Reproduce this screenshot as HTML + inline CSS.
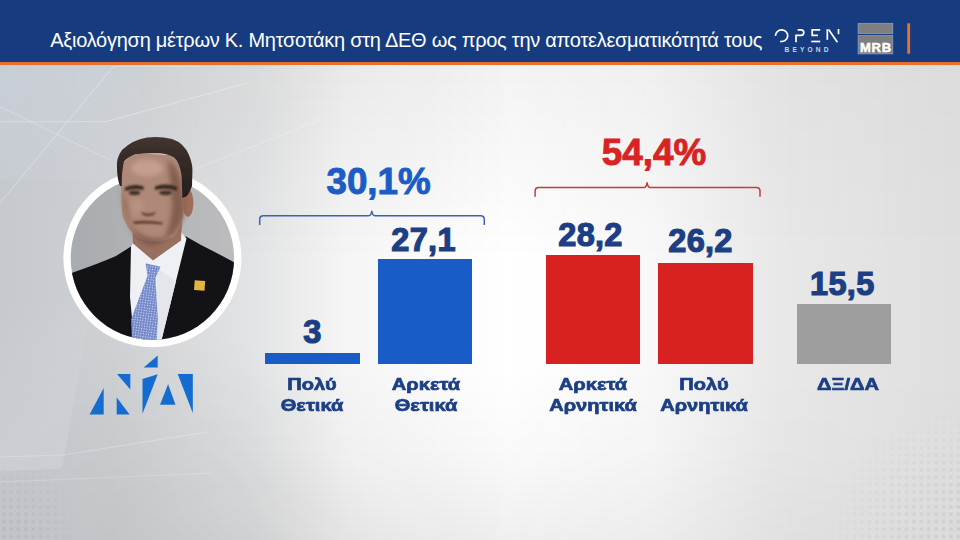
<!DOCTYPE html>
<html lang="el">
<head>
<meta charset="utf-8">
<title>Chart</title>
<style>
  html, body { margin: 0; padding: 0; }
  body {
    width: 960px; height: 540px; overflow: hidden; position: relative;
    font-family: "Liberation Sans", sans-serif;
    background: #e4e5e6;
  }
  #bg { position: absolute; left: 0; top: 0; width: 960px; height: 540px; }
  #header {
    position: absolute; left: 0; top: 0; width: 960px; height: 62px;
    background: #163c7f;
  }
  #stripe {
    position: absolute; left: 0; top: 61.5px; width: 960px; height: 3.5px;
    background: #e8702e;
  }
  #title {
    position: absolute; left: 50.3px; top: 27.5px; height: 24px; line-height: 24px;
    font-size: 20px; color: #ffffff; white-space: nowrap; letter-spacing: -0.27px;
  }
  .bar { position: absolute; }
  .blue { background: #1a5cc5; }
  .red { background: #d82121; }
  .gray { background: #9e9e9e; }
  .val {
    position: absolute; font-weight: bold; color: #1c3f84; font-size: 32.5px;
    line-height: 33px; height: 33px; width: 120px; white-space: nowrap; text-align: center;
    letter-spacing: 0.3px;
    -webkit-text-stroke: 1.2px #1c3f84;
  }
  .tot {
    position: absolute; font-weight: bold; font-size: 36.8px; line-height: 38px;
    height: 38px; width: 160px; white-space: nowrap; text-align: center;
    letter-spacing: 0px;
  }
  .lab {
    position: absolute; font-weight: bold; color: #1c3f84; font-size: 17.3px;
    line-height: 20.8px; width: 120px; text-align: center; white-space: nowrap;
    -webkit-text-stroke: 0.7px #1c3f84;
    transform: scaleX(1.16); transform-origin: 50% 0;
  }
  svg { position: absolute; left: 0; top: 0; }
  #beyond {
    position: absolute; left: 784.5px; top: 45.6px; font-size: 6.6px; line-height: 8px;
    font-weight: bold; color: #c9d5ee; letter-spacing: 3.15px; white-space: nowrap;
  }
  #mrb {
    position: absolute; left: 860px; top: 40.9px; font-size: 13px; line-height: 14px;
    font-weight: bold; color: #ffffff; white-space: nowrap; letter-spacing: 0.75px;
    -webkit-text-stroke: 0.5px #ffffff;
  }
</style>
</head>
<body>
<svg id="bg" width="960" height="540" viewBox="0 0 960 540">
  <defs>
    <linearGradient id="g1" x1="0" y1="0" x2="1" y2="0">
      <stop offset="0" stop-color="#c5c8cc"/>
      <stop offset="0.026" stop-color="#c7cace"/>
      <stop offset="0.12" stop-color="#cfd2d5"/>
      <stop offset="0.26" stop-color="#e2e3e4"/>
      <stop offset="0.36" stop-color="#f5f5f5"/>
      <stop offset="0.53" stop-color="#ffffff"/>
      <stop offset="0.68" stop-color="#f8f8f8"/>
      <stop offset="0.81" stop-color="#e8e8e8"/>
      <stop offset="0.97" stop-color="#e0e0e0"/>
      <stop offset="1" stop-color="#dfdfdf"/>
    </linearGradient>
    <linearGradient id="g2" x1="0" y1="0" x2="0" y2="1">
      <stop offset="0" stop-color="#000" stop-opacity="0.055"/>
      <stop offset="0.12" stop-color="#000" stop-opacity="0.05"/>
      <stop offset="0.48" stop-color="#000" stop-opacity="0"/>
      <stop offset="0.68" stop-color="#000" stop-opacity="0"/>
      <stop offset="0.84" stop-color="#000" stop-opacity="0.022"/>
      <stop offset="1" stop-color="#000" stop-opacity="0.065"/>
    </linearGradient>
    <linearGradient id="gm" x1="0" y1="0" x2="1" y2="0">
      <stop offset="0" stop-color="#fff" stop-opacity="0"/>
      <stop offset="0.1" stop-color="#fff" stop-opacity="0.25"/>
      <stop offset="0.27" stop-color="#fff" stop-opacity="0.85"/>
      <stop offset="0.5" stop-color="#fff" stop-opacity="1"/>
      <stop offset="0.8" stop-color="#fff" stop-opacity="0.45"/>
      <stop offset="1" stop-color="#fff" stop-opacity="0.25"/>
    </linearGradient>
    <mask id="mk" maskUnits="userSpaceOnUse" x="0" y="0" width="960" height="540">
      <rect width="960" height="540" fill="url(#gm)"/>
    </mask>
    <linearGradient id="gtl" x1="0" y1="0" x2="1" y2="1">
      <stop offset="0" stop-color="#ccd5e2" stop-opacity="0.5"/>
      <stop offset="1" stop-color="#cfd8e6" stop-opacity="0"/>
    </linearGradient>
      <radialGradient id="gdl" gradientUnits="userSpaceOnUse" cx="150" cy="545" r="230">
      <stop offset="0" stop-color="#000" stop-opacity="0.04"/>
      <stop offset="0.5" stop-color="#000" stop-opacity="0.025"/>
      <stop offset="1" stop-color="#000" stop-opacity="0"/>
    </radialGradient>
    <linearGradient id="gpan" x1="0" y1="0" x2="0" y2="1">
      <stop offset="0" stop-color="#e6edf2" stop-opacity="0"/>
      <stop offset="0.6" stop-color="#e6edf2" stop-opacity="0.14"/>
      <stop offset="1" stop-color="#e6edf2" stop-opacity="0.22"/>
    </linearGradient>
    <pattern id="pd" width="7.4" height="7.4" patternUnits="userSpaceOnUse">
      <rect x="2" y="2" width="3.4" height="3.4" rx="0.8" fill="#8e9094"/>
    </pattern>
    <radialGradient id="rbl" gradientUnits="userSpaceOnUse" cx="-5" cy="545" r="95">
      <stop offset="0" stop-color="#fff" stop-opacity="0.24"/>
      <stop offset="0.6" stop-color="#fff" stop-opacity="0.12"/>
      <stop offset="1" stop-color="#fff" stop-opacity="0"/>
    </radialGradient>
    <mask id="mbl" maskUnits="userSpaceOnUse" x="0" y="400" width="200" height="140"><rect x="0" y="400" width="200" height="140" fill="url(#rbl)"/></mask>
    <radialGradient id="rbr" gradientUnits="userSpaceOnUse" cx="970" cy="550" r="150">
      <stop offset="0" stop-color="#fff" stop-opacity="0.22"/>
      <stop offset="0.55" stop-color="#fff" stop-opacity="0.12"/>
      <stop offset="1" stop-color="#fff" stop-opacity="0"/>
    </radialGradient>
    <mask id="mbr" maskUnits="userSpaceOnUse" x="760" y="360" width="200" height="180"><rect x="760" y="360" width="200" height="180" fill="url(#rbr)"/></mask>
  </defs>
  <rect width="960" height="540" fill="url(#g1)"/>
  <rect width="960" height="540" fill="url(#g2)" mask="url(#mk)"/>
  <rect x="0" y="60" width="140" height="120" fill="url(#gtl)"/>
  <rect x="0" y="300" width="420" height="240" fill="url(#gdl)"/>
  <g fill="none" stroke="#ffffff" stroke-width="1">
    <path d="M0 203 L112 68 Q114 66 118 66 H200" opacity="0.35"/>
    <path d="M0 121.7 H106 L247 83" opacity="0.32"/>
    <path d="M0 106.7 L110 160" opacity="0.25"/>
    <path d="M320 120 L193 170" opacity="0.25"/>
    <path d="M0 457 L63 455 L207 432" opacity="0.25"/>
    <path d="M0 482 L213 473" opacity="0.2"/>
  </g>
  <polygon points="0,300 92,300 62,468.5 0,471.5" fill="url(#gpan)"/>
  <rect x="0" y="470" width="110" height="70" fill="url(#pd)" mask="url(#mbl)"/>
  <rect x="780" y="380" width="180" height="160" fill="url(#pd)" mask="url(#mbr)"/>
</svg>

<div id="header"></div>
<div id="stripe"></div>
<div id="title">Αξιολόγηση μέτρων Κ. Μητσοτάκη στη ΔΕΘ ως προς την αποτελεσματικότητά τους</div>

<!-- header logos -->
<svg id="logos" width="960" height="70" viewBox="0 0 960 70">
  <g fill="none" stroke="#ffffff" stroke-width="1.7" stroke-linecap="butt">
    <path d="M775.5 35.9 A6.1 5.8 0 1 1 780.1 41.3"/>
    <path d="M797.6 29.8 H801 A2.8 2.8 0 0 1 801 35.4 H796 V42.3"/>
    <path d="M820.2 29.8 H812.2 V35.4 H818"/>
    <path d="M811.3 41.5 H820.2"/>
    <path d="M827.3 29.2 V39.8"/>
    <path d="M828.6 29.6 L837.4 42.2"/>
    <path d="M838.5 29 V34.2"/>
  </g>
  <rect x="858.1" y="23.3" width="34.7" height="10.4" fill="#7f7f80" stroke="#8fa5cf" stroke-width="0.7"/>
  <rect x="858.1" y="35.6" width="34.7" height="18.3" fill="#7f7f80" stroke="#8fa5cf" stroke-width="0.7"/>
  <rect x="907.3" y="23.3" width="2.8" height="30.4" fill="#e8742f"/>
</svg>
<div id="beyond">BEYOND</div>
<div id="mrb">MRB</div>

<!-- portrait + party logo -->
<svg id="portrait" width="960" height="540" viewBox="0 0 960 540">
  <defs>
    <clipPath id="cin"><circle cx="152.4" cy="258.2" r="81.7"/></clipPath>
    <linearGradient id="pg" x1="0" y1="0" x2="1" y2="0">
      <stop offset="0" stop-color="#a8abaf"/>
      <stop offset="1" stop-color="#bcbcbd"/>
    </linearGradient>
    <linearGradient id="hg" x1="0" y1="0" x2="0" y2="1">
      <stop offset="0" stop-color="#43362f"/>
      <stop offset="0.3" stop-color="#382c28"/>
      <stop offset="1" stop-color="#261e1d"/>
    </linearGradient>
    <filter id="b1" x="-20%" y="-20%" width="140%" height="140%"><feGaussianBlur stdDeviation="1.1"/></filter>
    <filter id="b2" x="-20%" y="-20%" width="140%" height="140%"><feGaussianBlur stdDeviation="2.6"/></filter>
    <filter id="b0" x="-5%" y="-5%" width="110%" height="110%"><feGaussianBlur stdDeviation="0.5"/></filter>
    <pattern id="dots" width="2.6" height="2.6" patternUnits="userSpaceOnUse" patternTransform="rotate(8)">
      <rect width="2.6" height="2.6" fill="#748ac9"/>
      <circle cx="1.3" cy="1.3" r="0.6" fill="#dfe5f7"/>
    </pattern>
  </defs>
  <circle cx="152.4" cy="258.2" r="89" fill="#ffffff"/>
  <circle cx="152.4" cy="258.2" r="81.7" fill="url(#pg)"/>
  <g clip-path="url(#cin)">
    <!-- suit -->
    <path d="M60 279 L73 272.5 Q100 263 116 256 L131 246.5 L186 236.5 L201 245 Q220 254.5 240 265.5 L240 345 L60 345 Z" fill="#121217"/>
    <!-- shirt -->
    <path d="M131 246.5 L136 238 L181 232 L186.5 238.5 L176 281 L161.5 340 L134 340 L130 297 Z" fill="#eff0f3"/>
    <path d="M157 268 L176 281 L161.5 340 L157 340 Z" fill="#e4e6ec"/>
    <!-- tie -->
    <path d="M145.5 263.3 L160.5 266.7 L155.5 277.8 L157.8 319 L156.7 341 L132 341 L131.2 319 L147.6 275.5 Z" fill="url(#dots)"/>
    <!-- pin -->
    <rect x="194.4" y="280.7" width="10.5" height="9.7" fill="#e3b43e" transform="rotate(4 200 285)"/>
  </g>
  <g filter="url(#b0)">
  <!-- neck -->
  <path d="M132.5 232 L133 243.5 L153 260.5 L181 240.5 L182 222 Z" fill="#98705f"/>
  <!-- ear -->
  <ellipse cx="188" cy="203" rx="5.4" ry="13.8" fill="#9f6c59"/>
  <!-- face -->
  <path d="M122 165 Q128 155 140 153.5 L170 155 Q180 160 182 176 L183.5 190 L183.5 214 Q181 228 174 236.8 Q160 243.5 145.5 241 Q135 237 129.3 228.7 Q123 220 122 212.4 L121 186 Z" fill="#ae8878"/>
  </g>
  <!-- face shading -->
  <g filter="url(#b2)">
    <path d="M168 160 Q184 170 184 214 Q180 232 164 240 Q175 215 171 190 Z" fill="#7d5547" opacity="0.85"/>
    <path d="M128 222 Q145 245 170 236 Q160 247 146 244 Q134 238 128 222 Z" fill="#6f4a3e" opacity="0.7"/>
    <path d="M121 188 Q123 215 131 230 L128 205 Z" fill="#8a6152" opacity="0.7"/>
    <ellipse cx="147" cy="168" rx="16" ry="8.5" fill="#c7a294" opacity="0.9"/>
    <ellipse cx="137" cy="206" rx="7" ry="8" fill="#bd9686" opacity="0.65"/>
  </g>
  <g filter="url(#b1)">
    <path d="M125 187.5 Q134 183 143.5 186.5 L143.5 190 Q134 187.5 125 191 Z" fill="#35251f"/>
    <path d="M155 186.5 Q166 182.5 177 187 L177 190.5 Q166 187.5 155 190 Z" fill="#35251f"/>
    <ellipse cx="134.5" cy="192.8" rx="5.8" ry="2.4" fill="#41302a"/>
    <ellipse cx="165.5" cy="192.8" rx="6.4" ry="2.4" fill="#41302a"/>
    <path d="M141 211.5 Q148 215.5 156 211.5 L154 215 Q148 217.5 142.5 215 Z" fill="#6f4739"/>
    <path d="M133 221.5 Q147 219.5 163 222.5 L162 224.6 Q147 222.8 134 224 Z" fill="#5f3a30"/>
  </g>
  <!-- hair -->
  <path filter="url(#b0)" d="M117 168 Q116 158 122 150 Q132 140 147 137.5 Q160 136 172 139 Q184 143 189 155 Q193 165 192.4 172 L192 186 Q190 192 187 196 L182.4 198 L181.6 176 Q180 163 174 157.4 Q165 152.5 155.7 153.3 Q145 153 135.4 154.3 Q128 157 124 161.5 Q121.7 170 121.7 186 L120 186 Q117 178 117 168 Z" fill="url(#hg)"/>
  <!-- party logo -->
  <g fill="#146cd0">
    <polygon points="89.6,414.6 103.7,414.6 103.7,387.9"/>
    <polygon points="117,373.9 130.3,373.9 130.3,389.4"/>
    <polygon points="116.7,397.6 116.7,414.6 129.6,414.6"/>
    <polygon points="143.7,367.5 157.7,367.5 157.7,355.4"/>
    <polygon points="142.5,379.1 157.7,374.2 142.5,413.8"/>
    <polygon points="160,404.7 175.5,404.7 168.1,384.2"/>
    <polygon points="177.7,373.9 192.8,373.9 192.8,413.1"/>
  </g>
</svg>

<!-- brackets -->
<svg id="brackets" width="960" height="540" viewBox="0 0 960 540">
  <path d="M259.7 225 V219.5 Q259.7 215.8 263.4 215.8 H368.6 Q371.3 215.8 371.8 210.8 Q372.3 215.8 375 215.8 H480.6 Q484.3 215.8 484.3 219.5 V225" fill="none" stroke="#3763b0" stroke-width="1.5"/>
  <path d="M535.1 196.7 V191.2 Q535.1 187.5 538.8 187.5 H643.9 Q646.6 187.5 647.1 182.4 Q647.6 187.5 650.3 187.5 H756.3 Q760 187.5 760 191.2 V196.7" fill="none" stroke="#c63a3a" stroke-width="1.5"/>
</svg>

<!-- bars -->
<div class="bar blue" style="left:265px;top:352.5px;width:94.5px;height:11.3px"></div>
<div class="bar blue" style="left:377.5px;top:259px;width:94.5px;height:104.8px"></div>
<div class="bar red"  style="left:546px;top:255px;width:94.4px;height:108.8px"></div>
<div class="bar red"  style="left:658.3px;top:262.5px;width:94.6px;height:101.3px"></div>
<div class="bar gray" style="left:796.6px;top:304px;width:94.6px;height:59.8px"></div>

<!-- values -->
<div class="val" style="left:252.4px;top:315.8px">3</div>
<div class="val" style="left:363.6px;top:223.8px">27,1</div>
<div class="val" style="left:530.5px;top:219.3px">28,2</div>
<div class="val" style="left:640.5px;top:225.2px">26,2</div>
<div class="val" style="left:782.3px;top:267.9px">15,5</div>

<!-- totals -->
<div class="tot" style="left:298.6px;top:163.2px;color:#1b5cc5;-webkit-text-stroke:0.9px #1b5cc5">30,1%</div>
<div class="tot" style="left:574px;top:134.3px;color:#d92222;-webkit-text-stroke:0.9px #d92222">54,4%</div>

<!-- labels -->
<div class="lab" style="left:252px;top:373.8px">Πολύ<br>Θετικά</div>
<div class="lab" style="left:366px;top:373.8px">Αρκετά<br>Θετικά</div>
<div class="lab" style="left:533px;top:373.8px">Αρκετά<br>Αρνητικά</div>
<div class="lab" style="left:643.5px;top:373.8px">Πολύ<br>Αρνητικά</div>
<div class="lab" style="left:787.7px;top:373.8px">ΔΞ/ΔΑ</div>

</body>
</html>
